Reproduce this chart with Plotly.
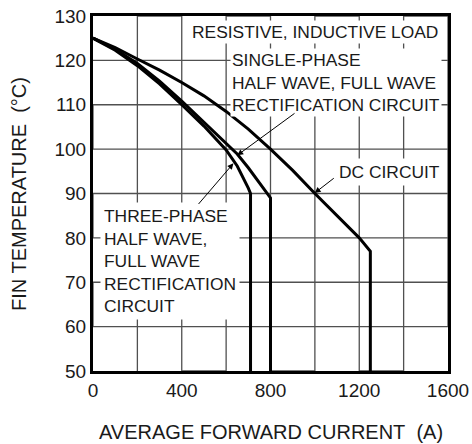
import plotly.graph_objects as go

# ---- data ----
three_phase_current = [0, 100, 200, 300, 400, 500, 600, 650, 700, 710, 710]
three_phase_temp    = [125, 122.3, 118.8, 114.7, 110, 105.2, 99.8, 96.2, 91.2, 90, 50]

single_phase_current = [0, 100, 200, 300, 400, 500, 600, 650, 700, 750, 800, 800]
single_phase_temp    = [125, 122.5, 119.3, 115.3, 110.8, 106, 101.3, 98.9, 95.8, 92.5, 89, 50]

dc_current = [0, 100, 200, 300, 400, 500, 600, 700, 800, 900, 1000, 1100, 1200, 1250, 1250]
dc_temp    = [125, 122.9, 120.3, 117.8, 115, 112, 108.5, 104.5, 100, 95.2, 90, 85, 80, 77, 50]

x_tickvals = [0, 200, 400, 600, 800, 1000, 1200, 1400, 1600]
x_ticktext = ["0", "", "400", "", "800", "", "1200", "", "1600"]
y_tickvals = [50, 60, 70, 80, 90, 100, 110, 120, 130]
y_ticktext = ["50", "60", "70", "80", "90", "100", "110", "120", "130"]

X_RANGE = [0, 1600]
Y_RANGE = [50, 130]

FONT = "Liberation Sans, Arial, sans-serif"
TXT = "#1a1a1a"
GRID = "#505050"

fig = go.Figure()

# Grid as ONE continuous serpentine line through the tick values; the connecting
# runs lie on the plot border (hidden under the frame).
gx, gy = [], []
for i, v in enumerate(x_tickvals[1:-1]):
    ys = [Y_RANGE[0], Y_RANGE[1]] if i % 2 == 0 else [Y_RANGE[1], Y_RANGE[0]]
    gx += [v, v]
    gy += ys
# continue along the border to the right edge, then the horizontal lines
gx += [X_RANGE[1]]
gy += [gy[-1]]
for i, v in enumerate(y_tickvals[1:-1]):
    xs = [X_RANGE[1], X_RANGE[0]] if i % 2 == 0 else [X_RANGE[0], X_RANGE[1]]
    gx += xs
    gy += [v, v]
fig.add_trace(go.Scatter(x=gx, y=gy, mode="lines",
                         line=dict(color=GRID, width=1.3, simplify=False),
                         showlegend=False, hoverinfo="skip"))

for xs, ys in [(three_phase_current, three_phase_temp),
               (single_phase_current, single_phase_temp),
               (dc_current, dc_temp)]:
    fig.add_trace(go.Scatter(x=xs, y=ys, mode="lines",
                             line=dict(color="black", width=3),
                             showlegend=False, hoverinfo="skip"))

ann_font = dict(family=FONT, size=17.4, color=TXT)
annotations = [
    dict(x=1565, y=126.3, text="RESISTIVE, INDUCTIVE LOAD", xanchor="right",
         yanchor="middle", showarrow=False, bgcolor="white", borderpad=1, font=ann_font),
    dict(x=618, y=115.1, text="SINGLE-PHASE<br>HALF WAVE, FULL WAVE<br>RECTIFICATION CIRCUIT",
         xanchor="left", yanchor="middle", align="left", showarrow=False,
         bgcolor="white", borderpad=1, font=ann_font),
    dict(x=1092, y=94.8, text="DC CIRCUIT", xanchor="left", yanchor="middle",
         showarrow=False, bgcolor="white", borderpad=3, font=ann_font),
    dict(x=31, y=74.75, text="THREE-PHASE<br>HALF WAVE,<br>FULL WAVE<br>RECTIFICATION<br>CIRCUIT",
         xanchor="left", yanchor="middle", align="left", showarrow=False,
         bgcolor="white", borderpad=3, font=ann_font),
    # leader lines
    dict(x=650, y=98.6, ax=915, ay=108.3, axref="x", ayref="y",
         text="", showarrow=True, arrowhead=2, arrowsize=1.2, arrowwidth=1, arrowcolor="black"),
    dict(x=633, y=96.8, ax=470, ay=87.3, axref="x", ayref="y",
         text="", showarrow=True, arrowhead=2, arrowsize=1.2, arrowwidth=1, arrowcolor="black"),
    dict(x=999, y=90.1, ax=1092, ay=93.7, axref="x", ayref="y",
         text="", showarrow=True, arrowhead=2, arrowsize=1.2, arrowwidth=1, arrowcolor="black"),
]
for a in annotations:
    a.setdefault("xref", "x")
    a.setdefault("yref", "y")
    fig.add_annotation(**a)

# axis titles as paper annotations
title_font = dict(family=FONT, size=20, color=TXT)
fig.add_annotation(x=0.5, y=-0.172, xref="paper", yref="paper",
                   text="AVERAGE FORWARD CURRENT\u00a0\u00a0(A)",
                   showarrow=False, xanchor="center", yanchor="middle", font=title_font)
fig.add_annotation(x=-0.21, y=0.5, xref="paper", yref="paper",
                   text="FIN TEMPERATURE\u00a0\u00a0(°C)",
                   showarrow=False, xanchor="center", yanchor="middle", textangle=-90, font=title_font)

fig.update_layout(
    template="none",
    width=472, height=444,
    margin=dict(l=93, r=24, t=16, b=73, pad=0),
    paper_bgcolor="white", plot_bgcolor="white",
    font=dict(family=FONT, color=TXT),
)
axis_common = dict(showgrid=False,
                   showline=True, mirror=True, linecolor="black", linewidth=3,
                   ticks="", zeroline=False, automargin=False, ticklabeloverflow="allow",
                   tickfont=dict(size=19, family=FONT, color=TXT))
fig.update_xaxes(range=X_RANGE, tickvals=x_tickvals, ticktext=x_ticktext, **axis_common)
fig.update_yaxes(range=Y_RANGE, tickvals=y_tickvals, ticktext=y_ticktext, **axis_common)

# page styling: no body margin / scrollbars, and normal (non-crisp) line rendering
post = """
var st = document.createElement('style');
st.innerHTML = 'html,body{margin:0;padding:0;overflow:hidden;} ' +
  '.js-plotly-plot .plotly .crisp, .js-plotly-plot path{shape-rendering:auto !important;}';
document.head.appendChild(st);
"""
fig.write_html("out.html", post_script=post, config={"displayModeBar": False})
